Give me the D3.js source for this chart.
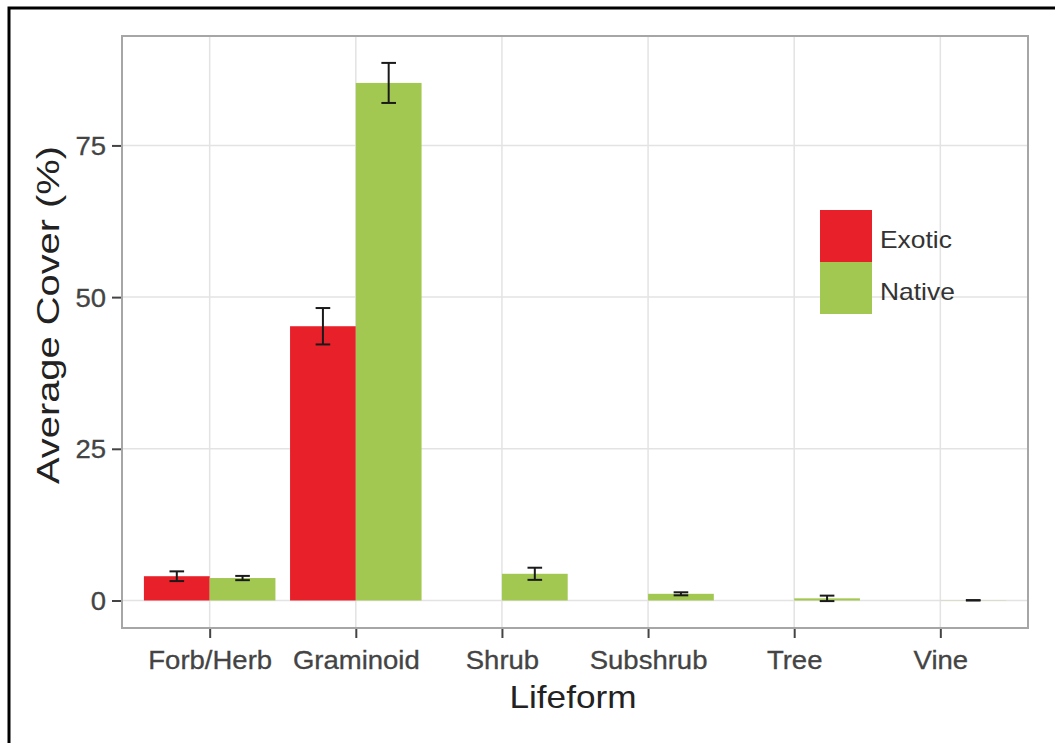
<!DOCTYPE html>
<html><head><meta charset="utf-8">
<script src="https://cdn.jsdelivr.net/npm/d3@7"></script>
<style>body{margin:0;background:#fff}svg{display:block}text{font-family:"Liberation Sans",Arial,sans-serif}</style>
</head><body><svg id="c" width="1055" height="743"></svg>
<script>
const categories = ["Forb/Herb","Graminoid","Shrub","Subshrub","Tree","Vine"];
const seriesNames = ["Exotic","Native"];
const exoticMean = [4.0, 45.2, null, null, null, null];
const exoticSE   = [0.8, 3.0, null, null, null, null];
const nativeMean = [3.7, 85.3, 4.4, 1.1, 0.35, 0.03];
const nativeSE   = [0.35, 3.3, 1.0, 0.25, 0.45, 0.03];
const yTicks = [0, 25, 50, 75];
const colors = ["#E8202A", "#A2C852"];

const svg = d3.select("#c");
const P = {l:122, t:36, r:1028, b:628};
const STRETCH = 1.1;

const rows = [];
categories.forEach((c,i)=>{
  [[exoticMean,exoticSE],[nativeMean,nativeSE]].forEach((s,j)=>{
    if (s[0][i] != null) rows.push({cat:c, series:seriesNames[j], si:j, v:s[0][i], se:s[1][i]});
  });
});
const yMaxData = d3.max(rows, d=>d.v+d.se), yMinData = Math.min(0, d3.min(rows, d=>d.v-d.se));
const ext = (yMaxData - yMinData)*0.05;
const y = d3.scaleLinear().domain([yMinData-ext, yMaxData+ext]).range([P.b, P.t]);
const x = d3.scalePoint().domain(categories).range([P.l, P.r]).padding(0.6);
const step = x.step(), dodge = step*0.9, half = dodge/2;

svg.append("rect").attr("x",9).attr("y",8).attr("width",1200).attr("height",900)
  .attr("fill","none").attr("stroke","#000").attr("stroke-width",3);

const g = svg.append("g");
g.selectAll(".gy").data(yTicks).join("line")
  .attr("x1",P.l).attr("x2",P.r).attr("y1",d=>y(d)).attr("y2",d=>y(d))
  .attr("stroke","#e3e3e3").attr("stroke-width",1.5);
g.selectAll(".gx").data(categories).join("line")
  .attr("y1",P.t).attr("y2",P.b).attr("x1",d=>x(d)).attr("x2",d=>x(d))
  .attr("stroke","#e3e3e3").attr("stroke-width",1.5);

const bx = d => x(d.cat) - half + d.si*half;
svg.selectAll(".bar").data(rows).join("rect")
  .attr("x", bx).attr("width", half)
  .attr("y", d=>Math.min(y(d.v), y(0))).attr("height", d=>Math.abs(y(0)-y(d.v)))
  .attr("fill", d=>colors[d.si]);

const capW = step*0.1;
const eb = svg.selectAll(".eb").data(rows).join("g").attr("stroke","#1a1a1a").attr("stroke-width",2);
eb.append("line").attr("x1",d=>bx(d)+half/2).attr("x2",d=>bx(d)+half/2)
  .attr("y1",d=>y(d.v-d.se)).attr("y2",d=>y(d.v+d.se));
eb.append("line").attr("x1",d=>bx(d)+half/2-capW/2).attr("x2",d=>bx(d)+half/2+capW/2)
  .attr("y1",d=>y(d.v+d.se)).attr("y2",d=>y(d.v+d.se));
eb.append("line").attr("x1",d=>bx(d)+half/2-capW/2).attr("x2",d=>bx(d)+half/2+capW/2)
  .attr("y1",d=>y(d.v-d.se)).attr("y2",d=>y(d.v-d.se));

svg.append("rect").attr("x",P.l).attr("y",P.t).attr("width",P.r-P.l).attr("height",P.b-P.t)
  .attr("fill","none").attr("stroke","#a6a6a6").attr("stroke-width",2);

const yAxis = d3.axisLeft(y).tickValues(yTicks).tickSize(9).tickPadding(6);
const ya = svg.append("g").attr("transform",`translate(${P.l-1},0)`).call(yAxis);
const xAxis = d3.axisBottom(x).tickSize(9).tickPadding(8);
const xa = svg.append("g").attr("transform",`translate(0,${P.b+1})`).call(xAxis);
[ya,xa].forEach(a=>{
  a.select(".domain").remove();
  a.selectAll(".tick line").attr("stroke","#444").attr("stroke-width",2);
  a.selectAll(".tick text").attr("fill","#444").style("font-size","25px").attr("font-family",null)
    .attr("stroke","#444").attr("stroke-width",0.3);
});
ya.selectAll(".tick text").attr("dy","0.36em");
xa.selectAll(".tick text").attr("dy","0.9em");

svg.append("text").attr("class","stretch").attr("x",(P.l+P.r)/2-2).attr("y",708)
  .attr("text-anchor","middle").attr("fill","#222").style("font-size","32px").text("Lifeform");
svg.append("text").attr("transform",`translate(59,${(145+485)/2}) rotate(-90)`)
  .attr("text-anchor","middle").attr("fill","#222").style("font-size","32px")
  .attr("textLength",338).attr("lengthAdjust","spacingAndGlyphs").text("Average Cover (%)");

const lg = svg.append("g").attr("transform","translate(820,210)");
seriesNames.forEach((s,i)=>{
  lg.append("rect").attr("x",0).attr("y",i*52).attr("width",52).attr("height",52).attr("fill",colors[i]);
  lg.append("text").attr("class","stretch").attr("x",60).attr("y",i*52+29).attr("dy","0.36em")
    .attr("fill","#333").style("font-size","24px").text(s);
});

svg.selectAll(".tick text, text.stretch").each(function(){
  const L = this.getComputedTextLength();
  d3.select(this).attr("textLength", L*STRETCH).attr("lengthAdjust","spacingAndGlyphs");
});
</script></body></html>
